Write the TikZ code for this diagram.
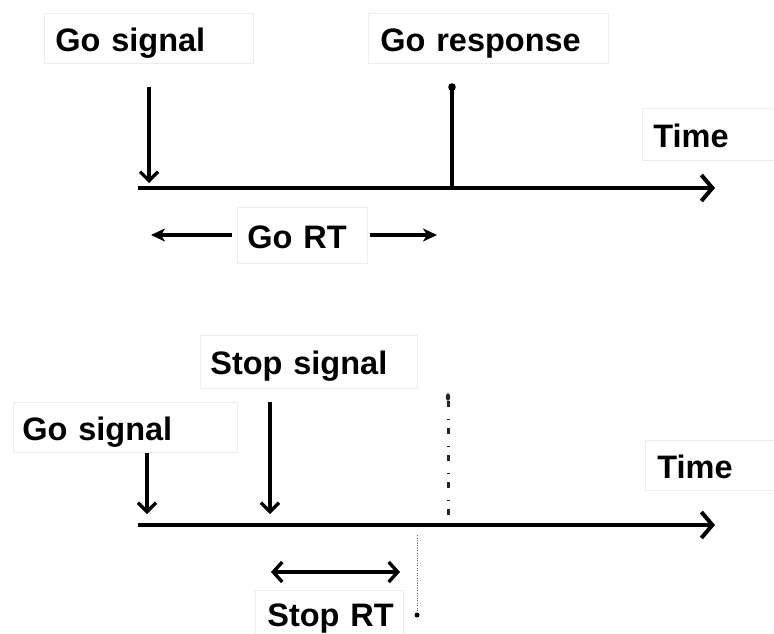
\documentclass[tikz,border=0pt]{standalone}
\usepackage{fontspec}
\setmainfont{Liberation Sans}
\usetikzlibrary{arrows.meta}
\tikzset{
  lbl/.style={draw=black!7, line width=0.7pt, anchor=north west, align=left,
    font=\fontsize{32.5}{38}\selectfont\bfseries, inner ysep=0pt,
    text height=26pt, text depth=0pt},
  axis/.style={line width=4.6pt, -{Straight Barb[length=11pt,width=26pt,line width=4pt]}},
  sigarrow/.style={line width=3.3pt, -{Straight Barb[length=9pt,width=18pt,line width=3.3pt]}},
  rtarrow/.style={line width=3.6pt, -{Stealth[length=14pt,width=13pt,inset=4pt]}},
  dblarrow/.style={line width=3.6pt, {Straight Barb[length=9pt,width=20pt,line width=3.4pt]}-{Straight Barb[length=9pt,width=20pt,line width=3.4pt]}},
}
\begin{document}
\begin{tikzpicture}[x=1pt,y=-1pt]
\useasboundingbox (0,0) rectangle (774,634);
% ---------- top panel ----------
\node[lbl, inner xsep=11pt, text width=187pt, minimum height=50pt] (gosig1) at (44,13) {\mbox{Go signal}};
\node[lbl, inner xsep=12pt, text width=216pt, minimum height=50pt] (goresp) at (368,13) {\mbox{Go response}};
\node[lbl, inner xsep=11pt, text width=120pt, minimum height=52pt] (time1) at (642,108) {\mbox{Time}};
\node[lbl, inner xsep=10pt, text width=110pt, minimum height=56pt] (gort) at (237,207) {\mbox{Go RT}};

\coordinate (ax1s) at (138,188);
\coordinate (ax1e) at (715,188);
\draw[axis] (ax1s) -- (ax1e);

\coordinate (gs1a) at (149,87);
\coordinate (gs1b) at (149,183);
\draw[sigarrow] (gs1a) -- (gs1b);

\coordinate (gr1a) at (452,188);
\coordinate (gr1b) at (452,87);
\draw[line width=3.2pt] (gr1a) -- (gr1b);
\fill (gr1b) circle (3.8pt);

\coordinate (grtl) at (232,235);
\coordinate (grtlt) at (151,235);
\coordinate (grtr) at (370,235);
\coordinate (grtrt) at (437,235);
\draw[rtarrow] (grtl) -- (grtlt);
\draw[rtarrow] (grtr) -- (grtrt);

% ---------- bottom panel ----------
\node[lbl, inner xsep=10pt, text width=197pt, minimum height=53pt] (stopsig) at (200,335) {\mbox{Stop signal}};
\node[lbl, inner xsep=9pt, text width=206pt, minimum height=50pt] (gosig2) at (13,402) {\mbox{Go signal}};
\node[lbl, inner xsep=12pt, text width=120pt, minimum height=50pt] (time2) at (645,440) {\mbox{Time}};
\node[lbl, inner xsep=12pt, text width=124pt, minimum height=46pt] (stoprt) at (255,590) {\mbox{Stop RT}};

\coordinate (ax2s) at (138,525);
\coordinate (ax2e) at (715,525);
\draw[axis] (ax2s) -- (ax2e);

\coordinate (gs2a) at (147,453);
\coordinate (gs2b) at (147,514);
\draw[sigarrow] (gs2a) -- (gs2b);

\coordinate (ss2a) at (270,402);
\coordinate (ss2b) at (270,514);
\draw[sigarrow] (ss2a) -- (ss2b);

\coordinate (dd1) at (448,515);
\coordinate (dd2) at (448,401);
\draw[line width=3pt, black!85, dash pattern=on 6pt off 8pt on 1.5pt off 11.5pt] (dd1) -- (dd2);
\fill[black!85] (448,397) ellipse (2.2pt and 3.8pt);

\coordinate (dt1) at (417,535);
\coordinate (dt2) at (417,615);
\draw[line width=1pt, black!60, dash pattern=on 1pt off 1.5pt] (dt1) -- (dt2);
\fill (dt2) circle (2.5pt);

\coordinate (srl) at (271,572);
\coordinate (srr) at (400,572);
\draw[dblarrow] (srl) -- (srr);
\end{tikzpicture}
\end{document}
